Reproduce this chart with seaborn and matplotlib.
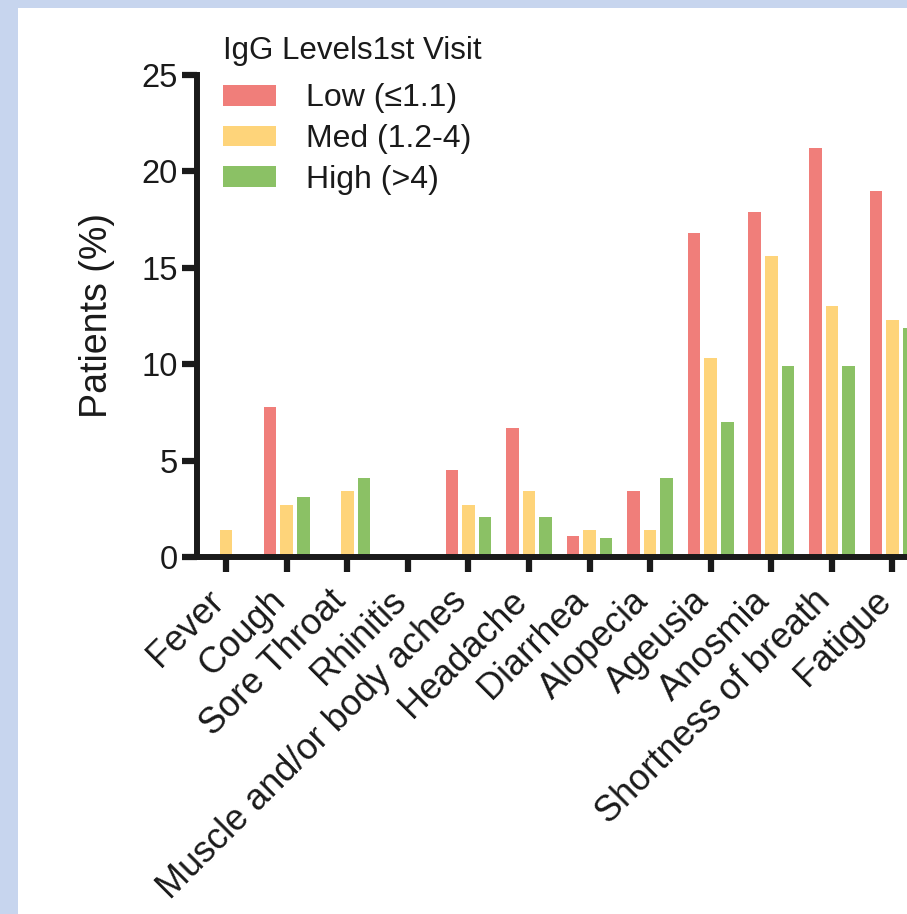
import matplotlib
matplotlib.use("Agg")
import matplotlib.pyplot as plt
import matplotlib.transforms as mtransforms
import seaborn as sns
import pandas as pd
from matplotlib.patches import Rectangle

# Symptom prevalence by IgG level at the first visit
symptoms = ["Fever", "Cough", "Sore Throat", "Rhinitis", "Muscle and/or body aches",
            "Headache", "Diarrhea", "Alopecia", "Ageusia", "Anosmia",
            "Shortness of breath", "Fatigue"]
levels = ["Low (≤1.1)", "Med (1.2-4)", "High (>4)"]
low = [0, 7.8, 0, 0, 4.5, 6.7, 1.1, 3.4, 16.8, 17.9, 21.2, 19.0]
med = [1.4, 2.7, 3.4, 0, 2.7, 3.4, 1.4, 1.4, 10.3, 15.6, 13.0, 12.3]
high = [0, 3.1, 4.1, 0, 2.1, 2.1, 1.0, 4.1, 7.0, 9.9, 9.9, 11.9]
colors = ["#F07E7A", "#FED47A", "#8BC165"]
yticks = [0, 5, 10, 15, 20, 25]

sns.set_theme(style="ticks")
plt.rcParams["font.family"] = ["Liberation Sans", "DejaVu Sans"]

ink = "#1a1a1a"
W, H = 907, 914
fig = plt.figure(figsize=(W / 100, H / 100), dpi=100, facecolor="#C7D5EE")
fig.patches.append(Rectangle((18 / W, 0), 1, 1 - 8 / H, transform=fig.transFigure,
                             facecolor="white", edgecolor="none", zorder=-5))

ax = fig.add_axes([197 / W, (H - 557) / H, (924 - 197) / W, (557 - 75) / H])
ax.set_facecolor("white")

df = pd.DataFrame({
    "symptom": symptoms * 3,
    "level": [lv for lv in levels for _ in symptoms],
    "pct": low + med + high,
})

sns.barplot(data=df, x="symptom", y="pct", hue="level", order=symptoms,
            hue_order=levels, palette=colors, saturation=1, width=0.82,
            gap=0.24, errorbar=None, linewidth=0, ax=ax)

ax.set_xlim(-0.48, 11.52)
ax.set_ylim(0, 25)
ax.set_yticks(yticks)
ax.set_yticklabels([str(t) for t in yticks])

for side in ["top", "right"]:
    ax.spines[side].set_visible(False)
for side in ["left", "bottom"]:
    ax.spines[side].set_linewidth(4.3)
    ax.spines[side].set_color(ink)
    ax.spines[side].set_capstyle("projecting")

ax.tick_params(axis="both", length=10.5, width=4.5, color=ink, labelsize=23.5,
               labelcolor=ink, direction="out")
ax.tick_params(axis="y", pad=3.5)
ax.tick_params(axis="x", pad=10, labelsize=26)
ax.set_xticks(range(len(symptoms)))
ax.set_xticklabels(symptoms)
plt.setp(ax.get_xticklabels(), rotation=45, ha="right", va="center",
         rotation_mode="anchor")

ax.set_xlabel("")
ax.set_ylabel("Patients (%)", fontsize=27, color=ink)
ax.yaxis.set_label_coords(-0.113, 0.5)

handles, labels = ax.get_legend_handles_labels()
if ax.legend_ is not None:
    ax.legend_.remove()
leg = fig.legend(handles, labels, title="IgG Levels1st Visit", loc="upper left",
                 bbox_to_anchor=(223 / W, 1 - 36 / H), bbox_transform=fig.transFigure,
                 frameon=False, fontsize=23, title_fontsize=22.5, alignment="left",
                 handlelength=1.66, handleheight=0.63, handletextpad=0.94,
                 labelspacing=0.34, borderpad=0, borderaxespad=0)
leg._legend_box.sep = 12.5
for t in leg.get_texts():
    t.set_color(ink)
leg.get_title().set_color(ink)

# nudge the slanted category labels slightly down and to the left
shift = mtransforms.ScaledTranslation(-0.07, -0.10, fig.dpi_scale_trans)
for lbl in ax.get_xticklabels():
    lbl.set_transform(lbl.get_transform() + shift)

fig.savefig("out.png", dpi=100, facecolor=fig.get_facecolor())
